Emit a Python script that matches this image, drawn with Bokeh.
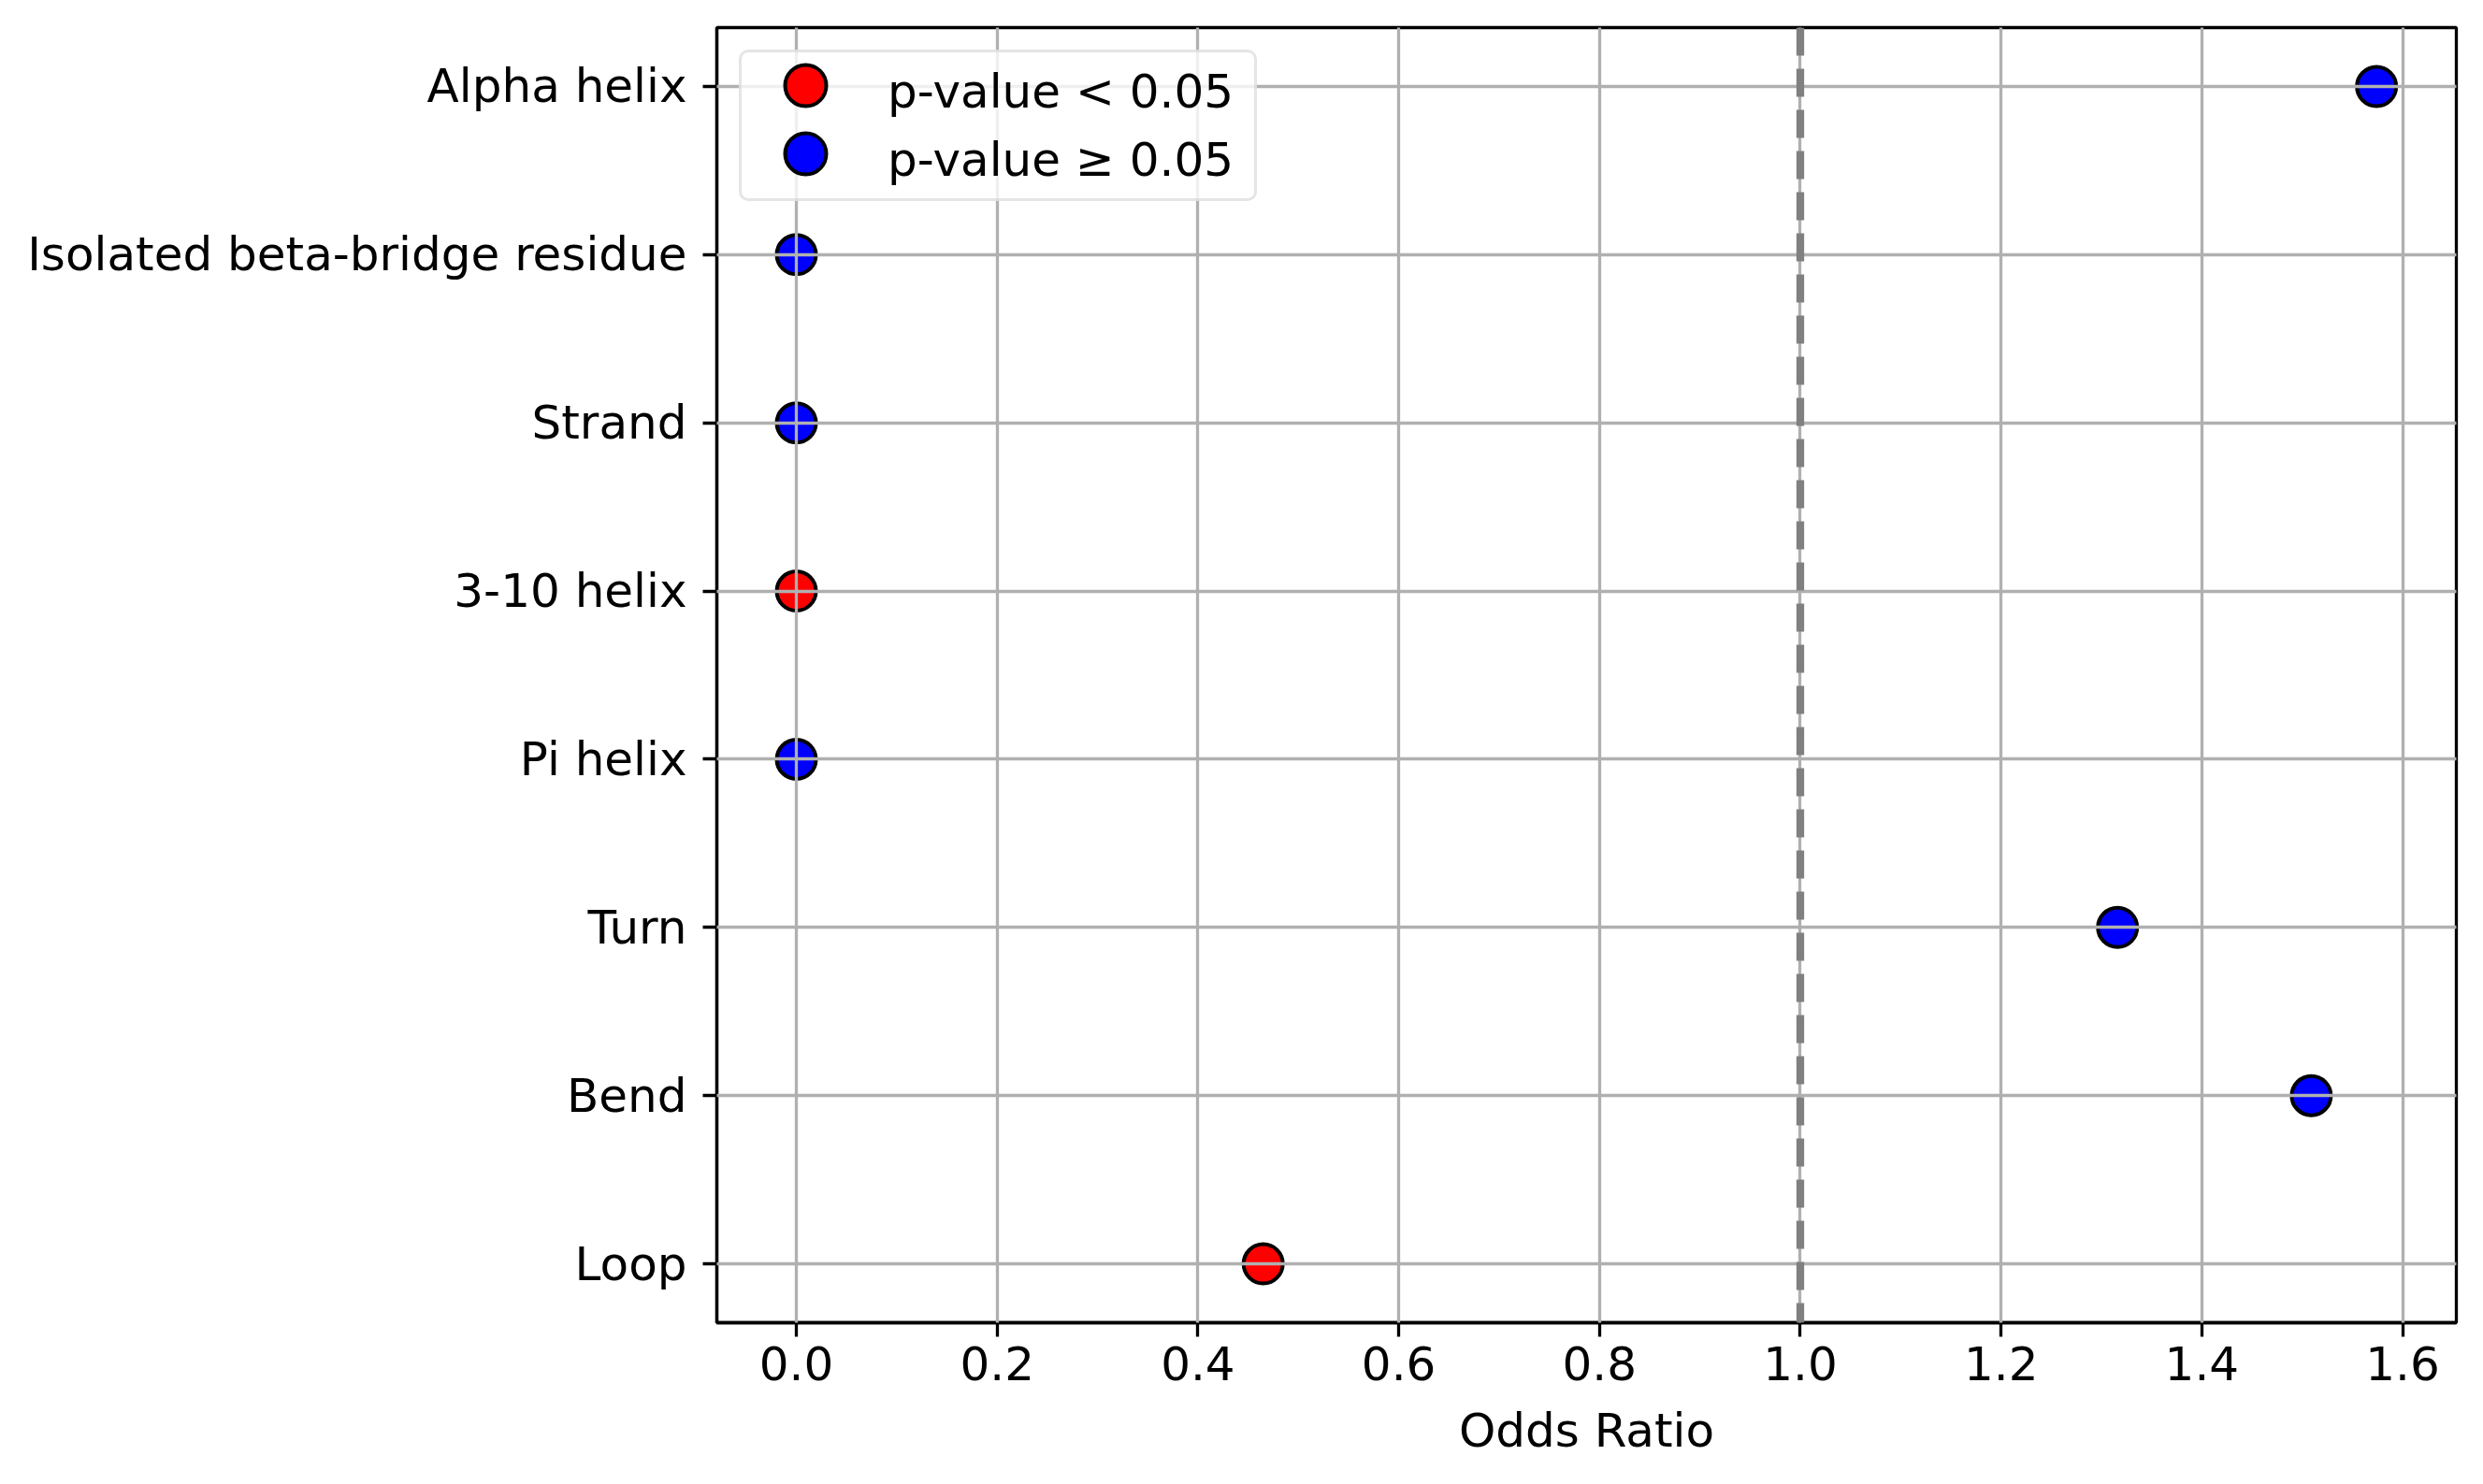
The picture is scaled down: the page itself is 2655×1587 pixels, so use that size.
from bokeh.plotting import figure
from bokeh.models import Range1d, FixedTicker, Span, ColumnDataSource, Legend, LegendItem
from bokeh.embed import file_html
from bokeh.resources import INLINE

# ---- data (top to bottom as drawn) ----
categories = ["Alpha helix", "Isolated beta-bridge residue", "Strand", "3-10 helix",
              "Pi helix", "Turn", "Bend", "Loop"]
odds_ratios = [1.574, 0.0, 0.0, 0.0, 0.0, 1.316, 1.509, 0.465]
significant = [False, False, False, True, False, False, False, True]
x_ticks = [0.0, 0.2, 0.4, 0.6, 0.8, 1.0, 1.2, 1.4, 1.6]
x_tick_labels = ["0.0", "0.2", "0.4", "0.6", "0.8", "1.0", "1.2", "1.4", "1.6"]
reference_line = 1.0
x_label = "Odds Ratio"
legend_labels = ["p-value < 0.05", "p-value \u2265 0.05"]

n = len(categories)
ypos = [n - 1 - i for i in range(n)]

sig = dict(x=[], y=[])
nonsig = dict(x=[], y=[])
for xv, yv, s in zip(odds_ratios, ypos, significant):
    d = sig if s else nonsig
    d["x"].append(xv)
    d["y"].append(yv)

FONT = "DejaVu Sans"
FS = "50px"
FH = 1385

p = figure(frame_width=1860, frame_height=FH,
           min_border_left=766, min_border_right=12, min_border_top=29, min_border_bottom=150,
           x_range=Range1d(-0.0792, 1.6535), y_range=Range1d(-0.35, n - 1 + 0.35),
           output_backend="svg", toolbar_location=None, background_fill_color="white",
           border_fill_color="white")

p.outline_line_color = "black"
p.outline_line_width = 3.3

for ax in (p.xaxis[0], p.yaxis[0]):
    ax.axis_line_color = "black"
    ax.axis_line_width = 3.3
    ax.major_tick_line_color = "black"
    ax.major_tick_line_width = 3.3
    ax.major_tick_out = 15
    ax.major_tick_in = 0
    ax.minor_tick_line_color = None
    ax.major_label_text_font = FONT
    ax.major_label_text_font_size = FS
    ax.major_label_text_color = "black"
    ax.axis_label_text_font = FONT
    ax.axis_label_text_font_size = FS
    ax.axis_label_text_font_style = "normal"
    ax.axis_label_text_color = "black"

p.xaxis.ticker = FixedTicker(ticks=x_ticks)
p.xaxis.major_label_overrides = {t: l for t, l in zip(x_ticks, x_tick_labels)}
p.xaxis.major_label_standoff = 10
p.xaxis.axis_label = x_label
p.xaxis.axis_label_standoff = 22

p.yaxis.ticker = FixedTicker(ticks=ypos)
p.yaxis.major_label_overrides = {y: c for y, c in zip(ypos, categories)}
p.yaxis.major_label_standoff = 17

for g in (p.xgrid[0], p.ygrid[0]):
    g.grid_line_color = "#b0b0b0"
    g.grid_line_width = 3.3
    g.level = "guide"
p.xgrid.ticker = FixedTicker(ticks=x_ticks)
p.ygrid.ticker = FixedTicker(ticks=ypos)

r_sig = p.scatter("x", "y", source=ColumnDataSource(sig), size=42, fill_color="red",
                  line_color="black", line_width=4)
r_non = p.scatter("x", "y", source=ColumnDataSource(nonsig), size=42, fill_color="blue",
                  line_color="black", line_width=4)

p.add_layout(Span(location=reference_line, dimension="height", line_color="gray",
                  line_width=8.3, line_dash="30 14"))

# legend box with labels
legend = Legend(items=[LegendItem(label=legend_labels[0], renderers=[r_sig]),
                       LegendItem(label=legend_labels[1], renderers=[r_non])],
                location="top_left", margin=24, padding=5, spacing=0,
                glyph_width=129, glyph_height=73, label_standoff=22, label_width=387,
                label_text_font=FONT, label_text_font_size=FS, label_text_color="black",
                border_line_color="#cccccc", border_line_width=3.3,
                background_fill_color="white", background_fill_alpha=0.8)
if "border_radius" in Legend.properties():
    legend.border_radius = 10
p.add_layout(legend)

# full-size legend markers drawn over the small ones
for r, top in ((r_sig, 7), (r_non, 80)):
    mk = Legend(items=[LegendItem(label="", renderers=[r])],
                location=(40, FH - top - 110), margin=0, padding=0, spacing=0,
                glyph_width=110, glyph_height=110, label_standoff=0, label_width=0,
                label_text_font_size="1px",
                border_line_color=None, background_fill_color=None, background_fill_alpha=0)
    p.add_layout(mk)

open("out.html", "w").write(file_html(p, INLINE))
